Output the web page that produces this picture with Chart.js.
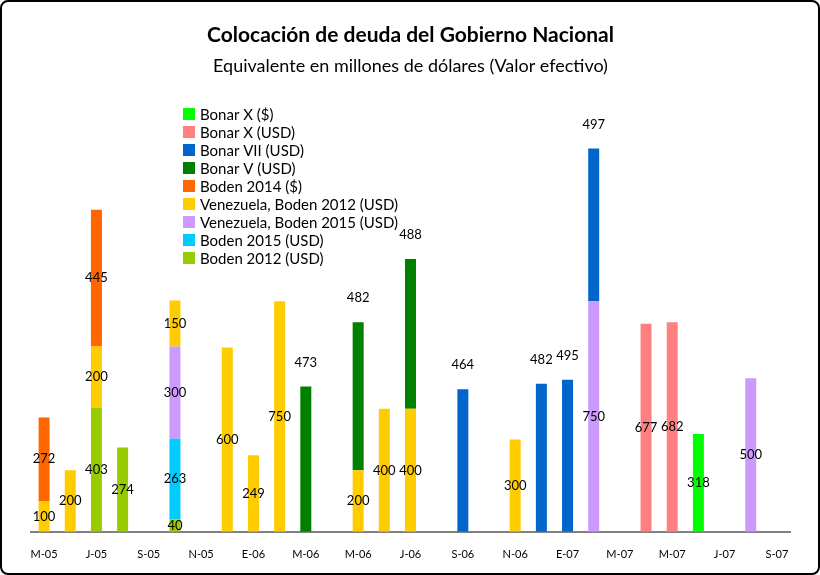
<!DOCTYPE html>
<html lang="es">
<head>
<meta charset="UTF-8">
<title>Colocación de deuda del Gobierno Nacional</title>
<script src="https://cdn.jsdelivr.net/npm/chart.js"></script>
<style>
  html, body { margin: 0; padding: 0; background: #fff; }
  #marco {
    width: 820px; height: 575px; box-sizing: border-box;
    border: 2px solid #000; border-radius: 8px; overflow: hidden;
  }
  #grafico { display: block; }
</style>
</head>
<body>
<div id="marco">
  <canvas id="grafico" width="816" height="571"></canvas>
</div>
<script>
// Meses (may-05 a sep-07), etiqueta visible uno de cada dos
var meses = ['M-05','J-05','J-05','A-05','S-05','O-05','N-05','D-05','E-06','F-06','M-06','A-06',
             'M-06','J-06','J-06','A-06','S-06','O-06','N-06','D-06','E-07','F-07','M-07','A-07',
             'M-07','J-07','J-07','A-07','S-07'];

var _ = null;
// Valores en millones de USD por mes
var boden2012    = [_, _, 403, 274, _, 40, _, _, _, _, _, _, _, _, _, _, _, _, _, _, _, _, _, _, _, _, _, _, _];
var boden2015    = [_, _, _, _, _, 263, _, _, _, _, _, _, _, _, _, _, _, _, _, _, _, _, _, _, _, _, _, _, _];
var venBoden2015 = [_, _, _, _, _, 300, _, _, _, _, _, _, _, _, _, _, _, _, _, _, _, 750, _, _, _, _, _, 500, _];
var venBoden2012 = [100, 200, 200, _, _, 150, _, 600, 249, 750, _, _, 200, 400, 400, _, _, _, 300, _, _, _, _, _, _, _, _, _, _];
var boden2014    = [272, _, 445, _, _, _, _, _, _, _, _, _, _, _, _, _, _, _, _, _, _, _, _, _, _, _, _, _, _];
var bonarV       = [_, _, _, _, _, _, _, _, _, _, 473, _, 482, _, 488, _, _, _, _, _, _, _, _, _, _, _, _, _, _];
var bonarVII     = [_, _, _, _, _, _, _, _, _, _, _, _, _, _, _, _, 464, _, _, 482, 495, 497, _, _, _, _, _, _, _];
var bonarXusd    = [_, _, _, _, _, _, _, _, _, _, _, _, _, _, _, _, _, _, _, _, _, _, _, 677, 682, _, _, _, _];
var bonarXars    = [_, _, _, _, _, _, _, _, _, _, _, _, _, _, _, _, _, _, _, _, _, _, _, _, _, 318, _, _, _];

var fuente = 'Lato, "Open Sans", sans-serif';

// series que llevan el numero encima de la barra
var arriba = ['Bonar V (USD)', 'Bonar VII (USD)'];

var etiquetas = {
    id: 'etiquetas',
    afterDatasetsDraw: function(chart) {
        var ctx = chart.ctx;
        ctx.save();
        ctx.font = '13px ' + fuente;
        ctx.fillStyle = '#000';
        ctx.textAlign = 'center';
        ctx.textBaseline = 'middle';
        chart.data.datasets.forEach(function(ds, i) {
            var meta = chart.getDatasetMeta(i);
            meta.data.forEach(function(bar, j) {
                var v = ds.data[j];
                if (v === null || v === undefined) return;
                var y = arriba.indexOf(ds.label) >= 0 ? bar.y - 24 : (bar.y + bar.base) / 2;
                ctx.fillText(String(v), bar.x, y);
            });
        });
        ctx.restore();
    }
};

// leyenda dentro del area del grafico
var leyenda = {
    id: 'leyenda',
    afterDraw: function(chart) {
        var ctx = chart.ctx;
        var x = 181, y = 112;
        ctx.save();
        ctx.font = '15px ' + fuente;
        ctx.textBaseline = 'middle';
        ctx.textAlign = 'left';
        var lista = chart.data.datasets.slice().reverse();
        lista.forEach(function(ds, k) {
            var yy = y + k * 18;
            ctx.fillStyle = ds.backgroundColor;
            ctx.fillRect(x, yy - 6, 12, 12);
            ctx.fillStyle = '#000';
            ctx.fillText(ds.label, x + 17, yy + 1);
        });
        ctx.restore();
    }
};

var grafico = new Chart(document.getElementById('grafico'), {
    type: 'bar',
    data: {
        labels: meses,
        datasets: [
            { label: 'Boden 2012 (USD)', data: boden2012, backgroundColor: '#99CC00' },
            { label: 'Boden 2015 (USD)', data: boden2015, backgroundColor: '#00CCFF' },
            { label: 'Venezuela, Boden 2015 (USD)', data: venBoden2015, backgroundColor: '#CC99FF' },
            { label: 'Venezuela, Boden 2012 (USD)', data: venBoden2012, backgroundColor: '#FFCC00' },
            { label: 'Boden 2014 ($)', data: boden2014, backgroundColor: '#FF6600' },
            { label: 'Bonar V (USD)', data: bonarV, backgroundColor: '#008000' },
            { label: 'Bonar VII (USD)', data: bonarVII, backgroundColor: '#0066CC' },
            { label: 'Bonar X (USD)', data: bonarXusd, backgroundColor: '#FF8080' },
            { label: 'Bonar X ($)', data: bonarXars, backgroundColor: '#00FF00' }
        ]
    },
    options: {
        responsive: false,
        animation: false,
        layout: { padding: { left: 29, right: 28, top: 0, bottom: -4 } },
        datasets: { bar: { barPercentage: 0.42, categoryPercentage: 1 } },
        plugins: {
            legend: { display: false },
            tooltip: { enabled: false },
            title: {
                display: true,
                text: 'Colocación de deuda del Gobierno Nacional',
                color: '#000',
                font: { family: fuente, size: 21, weight: 'bold' },
                padding: { top: 21, bottom: 7 }
            },
            subtitle: {
                display: true,
                text: 'Equivalente en millones de dólares (Valor efectivo)',
                color: '#000',
                font: { family: fuente, size: 18 },
                padding: { top: 0, bottom: 10 }
            }
        },
        scales: {
            x: {
                stacked: true,
                grid: { display: false, drawTicks: false },
                border: { display: true, color: '#808080', width: 2 },
                ticks: {
                    autoSkip: false,
                    maxRotation: 0,
                    padding: 16,
                    color: '#000',
                    font: { family: fuente, size: 11 },
                    callback: function(val, i) { return i % 2 === 0 ? meses[i] : ''; }
                }
            },
            y: {
                stacked: true,
                display: false,
                min: 0,
                max: 1448
            }
        }
    },
    plugins: [etiquetas, leyenda]
});
</script>
</body>
</html>
